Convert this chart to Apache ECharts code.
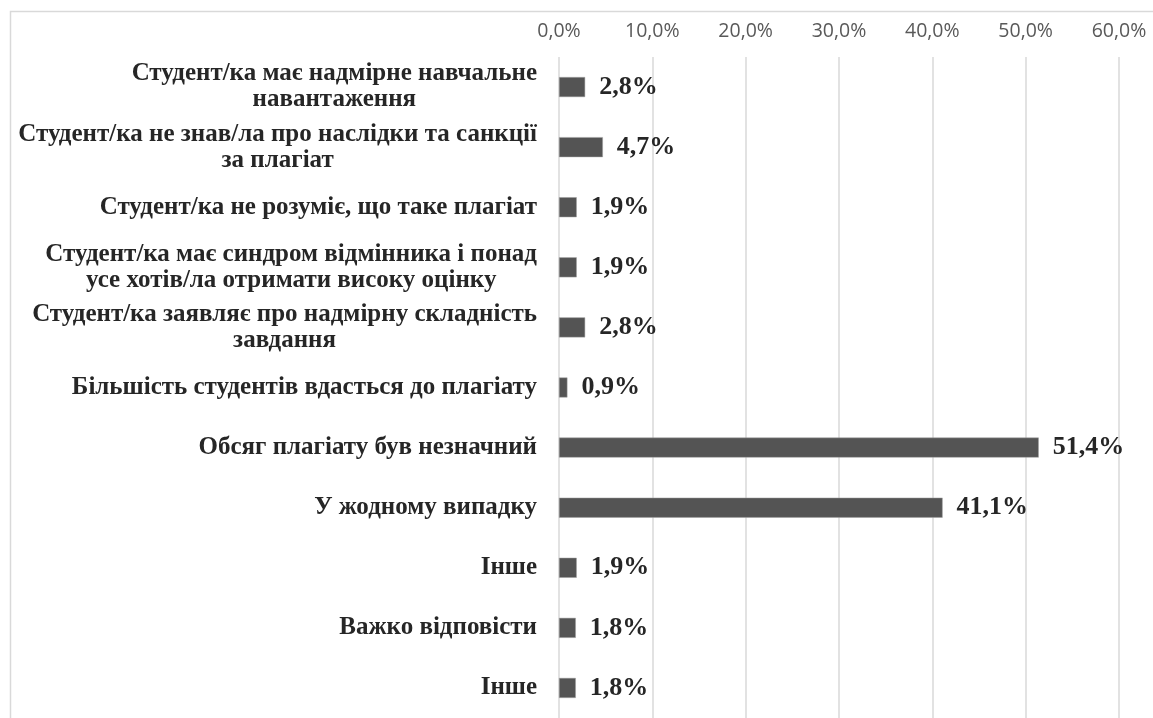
<!DOCTYPE html>
<html>
<head>
<meta charset="utf-8">
<script src="https://cdn.jsdelivr.net/npm/echarts@6/dist/echarts.min.js"></script>
<style>
  html, body { margin: 0; padding: 0; background: #ffffff; }
  #chart { width: 1153px; height: 718px; }
</style>
</head>
<body>
<div id="chart"></div>
<script>
// Categories, top to bottom (line breaks as in the reference)
var categories = [
  "Студент/ка має надмірне навчальне\nнавантаження",
  "Студент/ка не знав/ла про наслідки та санкції\nза плагіат",
  "Студент/ка не розуміє, що таке плагіат",
  "Студент/ка має синдром відмінника і понад\nусе хотів/ла отримати високу оцінку",
  "Студент/ка заявляє про надмірну складність\nзавдання",
  "Більшість студентів вдасться до плагіату",
  "Обсяг плагіату був незначний",
  "У жодному випадку",
  "Інше",
  "Важко відповісти",
  "Інше"
];
// Values in percent, same order
var values = [2.8, 4.7, 1.9, 1.9, 2.8, 0.9, 51.4, 41.1, 1.9, 1.8, 1.8];
// X-axis tick settings
var xMin = 0, xMax = 60, xStep = 10;

function fmtPct(v) { return v.toFixed(1).replace('.', ',') + '%'; }

var chart = echarts.init(document.getElementById('chart'), null, { renderer: 'canvas' });
chart.setOption({
  animation: false,
  backgroundColor: '#ffffff',
  graphic: [{
    type: 'rect',
    shape: { x: 10.5, y: 11.5, width: 1300, height: 900 },
    style: { fill: 'none', stroke: '#d9d9d9', lineWidth: 1.5 },
    silent: true, z: -10
  }],
  grid: { left: 559, right: 34, top: 57, height: 670, containLabel: false },
  xAxis: {
    type: 'value', position: 'top',
    min: xMin, max: xMax, interval: xStep,
    axisLine: { show: false }, axisTick: { show: false },
    splitLine: { show: true, lineStyle: { color: '#d9d9d9', width: 1.5 } },
    axisLabel: {
      formatter: function (v) { return fmtPct(v); },
      color: '#595959', fontFamily: 'Open Sans', fontSize: 19.5, margin: 16
    }
  },
  yAxis: {
    type: 'category', inverse: true,
    data: categories,
    axisLine: { show: false }, axisTick: { show: false }, splitLine: { show: false },
    axisLabel: {
      interval: 0, margin: 22, align: 'right',
      formatter: function (v) {
        return v.split('\n').map(function (s) { return '{c|' + s + '}'; }).join('\n');
      },
      rich: {
        c: {
          align: 'center', fontFamily: 'Liberation Serif', fontWeight: 'bold',
          fontSize: 25, color: '#262626', lineHeight: 26
        }
      }
    }
  },
  series: [{
    type: 'bar', data: values, barWidth: 20,
    itemStyle: { color: '#545454', borderColor: '#a0a0a0', borderWidth: 0.5 },
    label: {
      show: true, position: 'right', distance: 14,
      formatter: function (p) { return fmtPct(p.value); },
      fontFamily: 'Liberation Serif', fontWeight: 'bold', fontSize: 26, color: '#262626'
    }
  }]
});
</script>
</body>
</html>
